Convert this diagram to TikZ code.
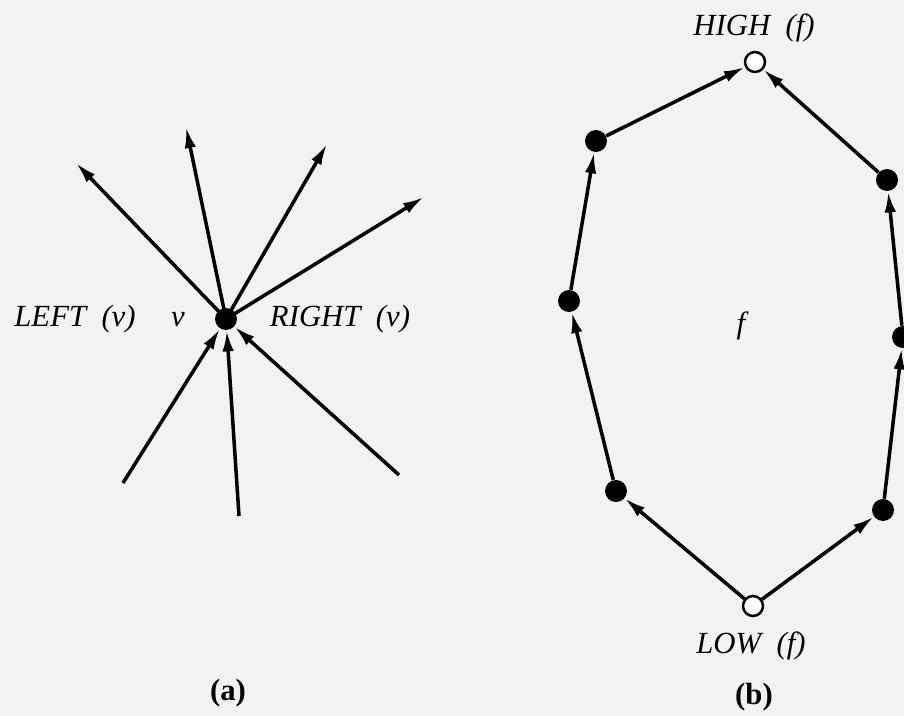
\documentclass[tikz,border=0pt]{standalone}
\usepackage{fontspec}
\setmainfont{Liberation Serif}
\usetikzlibrary{arrows.meta}
\tikzset{
  dot/.style={circle,fill=black,inner sep=0pt,minimum size=0.44cm},
  hole/.style={circle,draw=black,fill=white,line width=1.4pt,inner sep=0pt,minimum size=0.4cm},
  edge/.style={line width=2pt,-{Latex[length=12pt,width=6.5pt]}},
  lbl/.style={font=\fontsize{17.5}{20}\selectfont\itshape}
}
\begin{document}
\begin{tikzpicture}
    [x=0.02cm,y=-0.02cm]
    \useasboundingbox[fill=gray!10] (0,0) rectangle (904,716);
    %(a) vertex v
    \node[dot] (v) at (226,319) {};
    \coordinate (o1) at (76,163);
    \coordinate (o2) at (186,127);
    \coordinate (o3) at (327,144);
    \coordinate (o4) at (424,197);
    \coordinate (i1) at (123,483);
    \coordinate (i2) at (239,516);
    \coordinate (i3) at (399,475);
    \foreach \t in {o1,o2,o3,o4}
        \draw[edge] (v.center) -- (\t);
    \foreach \s in {i1,i2,i3}
        \draw[edge] (\s) -- (v);
    \node[lbl] (left) at (75,319) {LEFT\ \ (v)};
    \node[lbl] (vname) at (178,320) {v};
    \node[lbl] (right) at (340,319) {RIGHT\ \ (v)};
    \node[font=\fontsize{17.5}{20}\selectfont\bfseries] (capa) at (228,693) {(a)};
    %(b) face f
    \node[hole] (high) at (755,62) {};
    \node[hole] (low) at (753,606) {};
    \node[dot] (l1) at (596,141) {};
    \node[dot] (l2) at (569,301) {};
    \node[dot] (l3) at (616,491) {};
    \node[dot] (r1) at (887,180) {};
    \node[dot] (r2) at (903,337) {};
    \node[dot] (r3) at (883,510) {};
    \draw[edge] (low) -- (l3);
    \draw[edge] (l3) -- (l2);
    \draw[edge] (l2) -- (l1);
    \draw[edge] (l1) -- (high);
    \draw[edge] (low) -- (r3);
    \draw[edge] (r3) -- (r2);
    \draw[edge] (r2) -- (r1);
    \draw[edge] (r1) -- (high);
    \node[lbl] (hname) at (754,28) {HIGH\ \ (f)};
    \node[lbl] (lname) at (751,646) {LOW\ \ (f)};
    \node[lbl] (fname) at (741,326) {f};
    \node[font=\fontsize{17.5}{20}\selectfont\bfseries] (capb) at (754,697) {(b)};
\end{tikzpicture}
\end{document}
